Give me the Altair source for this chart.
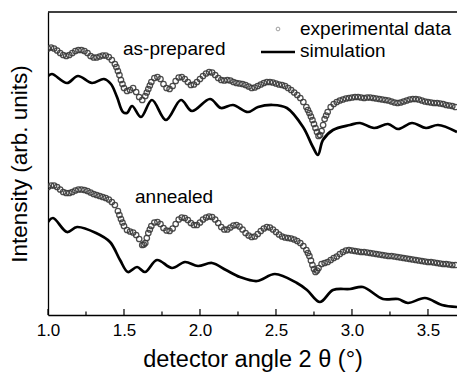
import altair as alt
import pandas as pd

# ---------------- data (arbitrary intensity units) -----
grid_start = 1.0
grid_step = 0.02

prep_exp = [266.5, 267.5, 266.5, 264.5, 262, 260, 259, 260, 262, 264,
            265, 265, 264, 262, 259, 257.5, 257.5, 258.5, 259.5, 259.5,
            258, 255, 251, 244, 235, 227, 224, 225, 227, 223,
            218, 215, 219, 226, 233, 237, 238, 236, 231, 227,
            226, 229, 234, 237.5, 238, 236, 233, 230, 230.5, 233,
            236, 239, 241.5, 243, 242.5, 240, 237, 235, 234.5, 235,
            234.5, 233, 232, 231.5, 231, 230, 228.5, 227, 227.5, 229,
            230.5, 232, 233, 233, 232.5, 231.5, 230.5, 230, 229, 227,
            225, 222.5, 220, 217, 213, 208, 202, 195, 187, 179,
            184, 196, 203, 208, 211, 213, 214.5, 215.5, 216.5, 217,
            217.5, 218, 218, 217.5, 217, 217.5, 217.5, 217, 216.5, 216,
            215.5, 215, 214.5, 213.5, 212.5, 212, 212.5, 213.5, 214.5, 215.5,
            216, 216, 215.5, 214.5, 213.5, 213, 212.5, 212, 212, 211.5,
            211, 210, 209.5, 209, 208]
prep_exp_extra_x = [1.45, 1.47, 1.49, 1.65, 1.67, 2.71, 2.73, 2.75, 2.77, 2.79, 2.81, 2.83]
prep_exp_extra_y = [248, 240, 231, 222.5, 229.5, 205, 198.5, 191, 183, 180, 190, 199.5]

anneal_exp = [128, 129.5, 129.5, 128, 125.5, 123, 122, 122, 123, 124.5,
              125.5, 125.5, 125, 124, 122.5, 121, 120, 119, 118, 117,
              115.5, 113, 110, 104, 96, 89, 85, 83.5, 82.5, 80,
              76, 70, 72, 82, 89, 92.5, 93, 91, 87, 84.5,
              84, 86.5, 91, 95.5, 97.5, 97, 95, 92, 90, 90,
              92.5, 95.5, 97.5, 98.5, 98, 95.5, 92, 88, 85.5, 85.5,
              87.5, 89.5, 90, 88.5, 85.5, 82, 79.5, 78, 78.5, 81,
              84, 86.5, 88, 87.5, 85.5, 83, 80.5, 78.5, 77.5, 77,
              76.5, 75.5, 74, 72, 69, 65, 59, 50, 43, 47,
              51, 52, 53, 55, 57, 58.5, 61, 63, 64.5, 65,
              64.5, 64, 63.5, 63, 63, 62.5, 62, 61.5, 61, 60.5,
              60, 59.5, 59, 59, 58.5, 58, 57.5, 57, 56.5, 56,
              55.5, 55, 54.5, 54, 53.5, 53, 53, 52.5, 52, 51.5,
              51, 51, 50.5, 50, 50]
anneal_exp_extra_x = [1.47, 1.49, 1.63, 1.65, 1.67, 2.71, 2.73, 2.75, 2.77]
anneal_exp_extra_y = [100, 92.5, 70.5, 77, 85.5, 62, 54.5, 46, 44.5]

prep_sim_x = [1.000, 1.026, 1.125, 1.197, 1.289, 1.368, 1.414, 1.454, 1.493, 1.520,
              1.553, 1.612, 1.684, 1.776, 1.875, 1.947, 2.066, 2.138, 2.217, 2.316,
              2.382, 2.480, 2.572, 2.678, 2.743, 2.776, 2.809, 2.875, 2.987, 3.053,
              3.145, 3.237, 3.303, 3.395, 3.487, 3.566, 3.691]
prep_sim_y = [239, 241, 232, 239, 232, 236, 231, 218, 203, 202,
              209, 198, 215, 195, 215, 204, 216, 207, 210, 203,
              208, 210, 207, 188, 168, 160, 175, 185, 190, 192,
              187, 191, 186, 192, 187, 190, 183]

anneal_sim_x = [1.000, 1.033, 1.125, 1.191, 1.316, 1.408, 1.474, 1.526, 1.586, 1.638,
                1.717, 1.816, 1.901, 1.987, 2.079, 2.171, 2.263, 2.375, 2.493, 2.638,
                2.704, 2.789, 2.875, 2.987, 3.072, 3.204, 3.303, 3.368, 3.480, 3.592,
                3.691]
anneal_sim_y = [93, 97, 83, 88, 82, 73, 55, 43, 48, 43,
                55, 47, 53, 49, 52, 45, 38, 34, 41, 32,
                25, 13, 25, 26, 28, 16, 16, 12, 17, 10,
                8]

major_ticks = [1.0, 1.5, 2.0, 2.5, 3.0, 3.5]
minor_ticks = [1.25, 1.75, 2.25, 2.75, 3.25]

# ---------------- tables ------------------------------------------------------
def grid(n):
    return [round(grid_start + grid_step * i, 2) for i in range(n)]

exp_df = pd.concat([
    pd.DataFrame({"angle": grid(len(prep_exp)) + prep_exp_extra_x,
                  "intensity": prep_exp + prep_exp_extra_y, "series": "as-prepared"}),
    pd.DataFrame({"angle": grid(len(anneal_exp)) + anneal_exp_extra_x,
                  "intensity": anneal_exp + anneal_exp_extra_y, "series": "annealed"}),
])
sim_df = pd.concat([
    pd.DataFrame({"angle": prep_sim_x, "intensity": prep_sim_y, "series": "as-prepared"}),
    pd.DataFrame({"angle": anneal_sim_x, "intensity": anneal_sim_y, "series": "annealed"}),
])
major_df = pd.DataFrame({"angle": major_ticks})
minor_df = pd.DataFrame({"angle": minor_ticks})

W, H = 409, 303
FONT = "Liberation Sans"
xscale = alt.Scale(domain=[1.0, 3.691], nice=False, zero=False)
yscale = alt.Scale(domain=[0, 303], nice=False, zero=False)

x_axis = alt.Axis(orient="bottom", values=major_ticks, format=".1f", ticks=False,
                  labelFontSize=17, labelPadding=7, labelFlush=False, labelColor="black",
                  title="detector angle 2 θ (°)", titleFontSize=23.5, titleFontWeight="normal",
                  titleColor="black", titlePadding=9, grid=False,
                  domainColor="black", domainWidth=1.3)
y_axis = alt.Axis(orient="left", labels=False, ticks=False, grid=False,
                  title="Intensity (arb. units)", titleFontSize=22.5, titleFontWeight="normal",
                  titleColor="black", titlePadding=17, domainColor="black", domainWidth=1.3)

X = alt.X("angle:Q", scale=xscale, axis=x_axis)
Y = alt.Y("intensity:Q", scale=yscale, axis=y_axis)

exp = alt.Chart(exp_df).mark_point(
    shape="circle", filled=False, size=30, strokeWidth=1.25, color="#3a3a3a",
    opacity=0.9, clip=True
).encode(x=X, y=Y, detail="series:N")

sim = alt.Chart(sim_df).mark_line(
    color="black", strokeWidth=2.7, interpolate="catmull-rom", clip=True
).encode(x=X, y=Y, detail="series:N")

ticks_major = alt.Chart(major_df).mark_rule(color="black", strokeWidth=1.2).encode(
    x=X, y=alt.value(H), y2=alt.value(H - 6),
)
ticks_minor = alt.Chart(minor_df).mark_rule(color="black", strokeWidth=1.2).encode(
    x=X, y=alt.value(H), y2=alt.value(H - 3.5),
)
top_frame = alt.Chart(pd.DataFrame({"t": ["frame"]})).mark_rule(
    color="black", strokeWidth=1.3
).encode(x=alt.value(0), x2=alt.value(W), y=alt.value(0))

def label(txt, px, py, size=19):
    return alt.Chart(pd.DataFrame({"t": [txt]})).mark_text(
        align="left", baseline="alphabetic", fontSize=size, font=FONT, color="black"
    ).encode(x=alt.value(px), y=alt.value(py), text="t:N")

lab_prep = label("as-prepared", 75, 43)
lab_ann = label("annealed", 87, 191)
leg_t1 = label("experimental data", 252, 23)
leg_t2 = label("simulation", 252, 45)
leg_pt = alt.Chart(pd.DataFrame({"t": ["experimental data"]})).mark_point(
    shape="circle", filled=False, size=14, strokeWidth=0.8, color="#555"
).encode(x=alt.value(230), y=alt.value(17))
leg_ln = alt.Chart(pd.DataFrame({"t": ["simulation"]})).mark_rule(
    color="black", strokeWidth=2.7
).encode(x=alt.value(213), x2=alt.value(247), y=alt.value(40))

chart = alt.layer(
    exp, sim, ticks_major, ticks_minor, top_frame,
    lab_prep, lab_ann, leg_t1, leg_t2, leg_pt, leg_ln
).properties(
    width=W, height=H,
    padding={"left": 48, "top": 12, "right": 0, "bottom": 64},
    autosize=alt.AutoSizeParams(type="none"),
    background="white",
).configure(font=FONT).configure_view(stroke=None)

chart.save("out.html", embed_options={"renderer": "svg", "actions": False})
